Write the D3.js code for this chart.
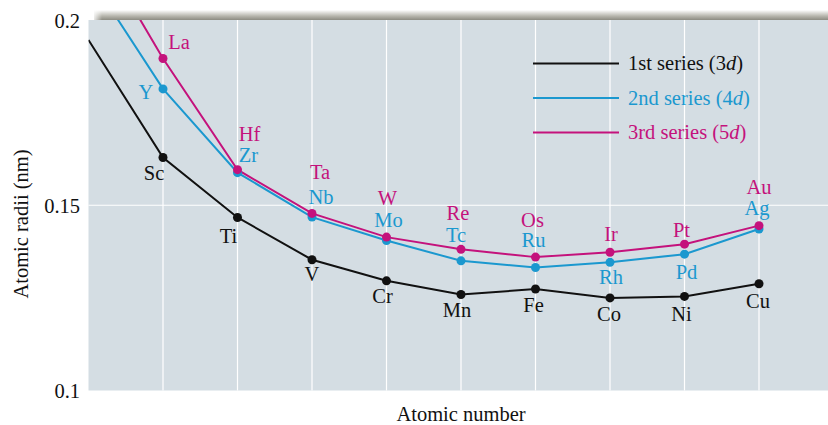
<!DOCTYPE html>
<html>
<head>
<meta charset="utf-8">
<script src="https://cdn.jsdelivr.net/npm/d3@7"></script>
<style>
  html, body { margin: 0; padding: 0; background: #fff; }
  svg { display: block; }
  text { font-family: "Liberation Serif", "Times New Roman", serif; }
</style>
</head>
<body>
<svg id="chart" width="828" height="425"></svg>
<script>
// ---- data ----
const positions = [0, 1, 2, 3, 4, 5, 6, 7, 8, 9];        // column index (0 = off-chart lead-in)
const series3d = [0.1946, 0.1629, 0.1467, 0.1353, 0.1296, 0.1259, 0.1274, 0.1250, 0.1254, 0.1288];
const series4d = [0.2123, 0.1814, 0.1588, 0.1468, 0.1405, 0.1350, 0.1332, 0.1346, 0.1368, 0.1436];
const series5d = [0.2238, 0.1896, 0.1596, 0.1478, 0.1414, 0.1381, 0.1360, 0.1373, 0.1395, 0.1445];
const labels3d = [null, "Sc", "Ti", "V", "Cr", "Mn", "Fe", "Co", "Ni", "Cu"];
const labels4d = [null, "Y", "Zr", "Nb", "Mo", "Tc", "Ru", "Rh", "Pd", "Ag"];
const labels5d = [null, "La", "Hf", "Ta", "W", "Re", "Os", "Ir", "Pt", "Au"];
const yTicks = [0.1, 0.15, 0.2];
const yTickLabels = ["0.1", "0.15", "0.2"];
const seriesNames = ["1st series (3", "2nd series (4", "3rd series (5"];
const seriesSuffix = ["d", "d", "d"];

// ---- layout (label offsets relative to point, in px) ----
const off3d = [null, [-9, 23], [-9, 26], [0, 21], [-4, 22], [-4, 22], [-2, 23], [-1, 23], [-3, 25], [-1, 24]];
const off4d = [null, [-17, 10], [11, -11], [9, -13], [2, -13], [-5, -19], [-2, -20], [1, 22], [2, 25], [-2, -14]];
const off5d = [null, [16, -10], [12, -29], [8, -34], [1, -32], [-3, -29], [-3, -30], [1, -11], [-3, -7], [0, -32]];

const colors = ["#111111", "#1b98cf", "#c4127c"];
const FS = 20.5;
const W = 828, H = 425;
const mLeft = 88.5, mTop = 20, mBottom = 390.5, mRight = 828;
const colW = 74.5;

const svg = d3.select("#chart");
const x = d3.scaleLinear().domain([0, 1]).range([mLeft, mLeft + colW]);
const y = d3.scaleLinear().domain([0.1, 0.2]).range([mBottom, mTop]);

// shadow band at top
const defs = svg.append("defs");
const grad = defs.append("linearGradient").attr("id", "shad").attr("x1", 0).attr("y1", 0).attr("x2", 0).attr("y2", 1);
grad.append("stop").attr("offset", "0%").attr("stop-color", "#ffffff");
grad.append("stop").attr("offset", "60%").attr("stop-color", "#b7b6ad");
grad.append("stop").attr("offset", "100%").attr("stop-color", "#8d8c82");
const hgrad = defs.append("linearGradient").attr("id", "shadL").attr("x1", 0).attr("y1", 0).attr("x2", 1).attr("y2", 0);
hgrad.append("stop").attr("offset", "0%").attr("stop-color", "#fff").attr("stop-opacity", 1);
hgrad.append("stop").attr("offset", "100%").attr("stop-color", "#fff").attr("stop-opacity", 0);
svg.append("rect").attr("x", 94).attr("y", 10).attr("width", W - 94).attr("height", 10).attr("fill", "url(#shad)");
svg.append("rect").attr("x", 92).attr("y", 8).attr("width", 10).attr("height", 13).attr("fill", "url(#shadL)");

// plot background
svg.append("rect").attr("x", mLeft).attr("y", mTop).attr("width", mRight - mLeft).attr("height", mBottom - mTop).attr("fill", "#d4dde3");

defs.append("clipPath").attr("id", "clip").append("rect")
  .attr("x", mLeft).attr("y", mTop).attr("width", mRight - mLeft).attr("height", mBottom - mTop);

// gridlines
const g = svg.append("g");
g.selectAll("line.v").data(positions.slice(1)).join("line")
  .attr("x1", d => x(d)).attr("x2", d => x(d)).attr("y1", mTop).attr("y2", mBottom)
  .attr("stroke", "#ffffff").attr("stroke-width", 1.2);
g.append("line").attr("x1", mLeft).attr("x2", mRight).attr("y1", y(0.15)).attr("y2", y(0.15))
  .attr("stroke", "#ffffff").attr("stroke-width", 1.2);

// y tick labels
svg.selectAll("text.yt").data(yTicks).join("text")
  .attr("x", 80).attr("y", d => y(d) + 7.5)
  .attr("text-anchor", "end").attr("font-size", FS).attr("fill", "#111")
  .text((d, i) => yTickLabels[i]);

// axis titles
svg.append("text").attr("transform", "translate(28,224) rotate(-90)")
  .attr("text-anchor", "middle").attr("font-size", FS).attr("fill", "#111").text("Atomic radii (nm)");
svg.append("text").attr("x", 461).attr("y", 421)
  .attr("text-anchor", "middle").attr("font-size", FS).attr("fill", "#111").text("Atomic number");

// series
const all = [
  { vals: series3d, labels: labels3d, off: off3d, color: colors[0] },
  { vals: series4d, labels: labels4d, off: off4d, color: colors[1] },
  { vals: series5d, labels: labels5d, off: off5d, color: colors[2] }
];
const line = d3.line().x((d, i) => x(positions[i])).y(d => y(d));
const plot = svg.append("g").attr("clip-path", "url(#clip)");
all.forEach(s => {
  plot.append("path").datum(s.vals).attr("d", line)
    .attr("fill", "none").attr("stroke", s.color).attr("stroke-width", 2);
});
all.forEach(s => {
  const pts = s.vals.map((v, i) => ({ v, i })).filter(p => p.i > 0);
  plot.selectAll(null).data(pts).join("circle")
    .attr("cx", p => x(positions[p.i])).attr("cy", p => y(p.v)).attr("r", 4.5)
    .attr("fill", s.color);
  svg.selectAll(null).data(pts).join("text")
    .attr("x", p => x(positions[p.i]) + s.off[p.i][0])
    .attr("y", p => y(p.v) + s.off[p.i][1])
    .attr("text-anchor", "middle").attr("font-size", FS).attr("fill", s.color)
    .text(p => s.labels[p.i]);
});

// legend
const legY = [63.5, 98, 132.5];
colors.forEach((c, i) => {
  svg.append("line").attr("x1", 533).attr("x2", 619).attr("y1", legY[i]).attr("y2", legY[i])
    .attr("stroke", c).attr("stroke-width", 2);
  const t = svg.append("text").attr("x", 628).attr("y", legY[i] + 6.5).attr("font-size", FS).attr("fill", c);
  t.append("tspan").text(seriesNames[i]);
  t.append("tspan").attr("font-style", "italic").text(seriesSuffix[i]);
  t.append("tspan").text(")");
});
</script>
</body>
</html>
